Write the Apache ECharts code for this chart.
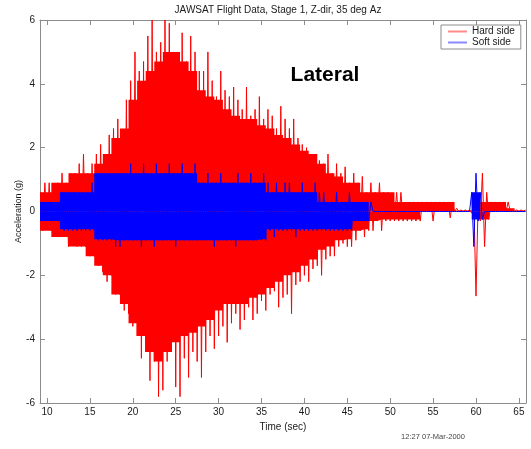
<!DOCTYPE html>
<html>
<head>
<meta charset="utf-8">
<script src="https://cdn.jsdelivr.net/npm/echarts@6/dist/echarts.min.js"></script>
<style>
html,body{margin:0;padding:0;background:#fff;}
#chart{width:531px;height:449px;}
</style>
</head>
<body>
<div id="chart"></div>
<script>
// ---- data ----
const titleText = 'JAWSAT Flight Data, Stage 1, Z-dir, 35 deg Az';
const seriesNames = ['Hard side', 'Soft side'];
const xTicks = [10, 15, 20, 25, 30, 35, 40, 45, 50, 55, 60, 65];
const xRange = [9.18, 65.83];
const yRange = [-6, 6];
const yStep = 2;

// solid (dense) band of each signal, one value per second, t = 9, 10, ... 66 s (g)
const coreStart = 9;
const coreStep = 1;
const hardCoreUpper = [
  0.6, 0.6, 0.9, 0.9, 1.2, 1.2, 1.2, 1.5, 1.8, 2.3,   // 9-18
  2.6, 3.5, 4.1, 4.4, 4.7, 5.0, 5.0, 4.7, 4.4, 3.8,   // 19-28
  3.6, 3.5, 3.2, 3.0, 2.9, 2.9, 2.7, 2.6, 2.4, 2.3,   // 29-38
  2.1, 1.9, 1.8, 1.5, 1.2, 1.1, 0.9, 0.9, 0.6, 0.6,   // 39-48
  0.6, 0.6, 0.3, 0.3, 0.3, 0.3, 0.3, 0.3, 0.3, 0.03,  // 49-58
  0.03, 0.03, 0.3, 0.3, 0.3, 0.1, 0.03, 0.03          // 59-66
];
const hardCoreLower = [
  -0.6, -0.6, -0.8, -0.8, -1.1, -1.1, -1.4, -1.7, -2.0, -2.6,  // 9-18
  -2.9, -3.5, -3.9, -4.4, -4.7, -4.4, -4.1, -3.9, -3.8, -3.6,  // 19-28
  -3.4, -3.1, -2.9, -2.9, -2.9, -2.7, -2.6, -2.4, -2.2, -2.0,  // 29-38
  -1.9, -1.7, -1.5, -1.2, -1.1, -0.9, -0.87, -0.6, -0.56, -0.3, // 39-48
  -0.25, -0.25, -0.25, -0.25, -0.25, 0, 0, 0, 0, 0,             // 49-58
  0, 0, -0.25, 0, 0, 0, 0, 0                                    // 59-66
];
const softCoreUpper = [
  0.3, 0.3, 0.3, 0.6, 0.6, 0.6, 0.6, 1.2, 1.2, 1.2,   // 9-18
  1.2, 1.2, 1.2, 1.2, 1.2, 1.2, 1.2, 1.2, 1.2, 0.9,   // 19-28
  0.9, 0.9, 0.9, 0.9, 0.9, 0.9, 0.9, 0.6, 0.6, 0.6,   // 29-38
  0.6, 0.6, 0.6, 0.3, 0.3, 0.3, 0.3, 0.3, 0.3, 0,     // 39-48
  0, 0, 0, 0, 0, 0, 0, 0, 0, 0,                       // 49-58
  0, 0.6, 0, 0, 0, 0, 0, 0                            // 59-66
];
const softCoreLower = [
  -0.3, -0.3, -0.3, -0.56, -0.56, -0.56, -0.56, -0.87, -0.87, -0.9,  // 9-18
  -0.9, -0.9, -0.9, -0.9, -0.9, -0.9, -0.9, -0.9, -0.9, -0.9,        // 19-28
  -0.9, -0.9, -0.9, -0.9, -0.9, -0.9, -0.87, -0.56, -0.56, -0.56,    // 29-38
  -0.56, -0.56, -0.56, -0.56, -0.56, -0.56, -0.56, -0.3, -0.3, 0,    // 39-48
  0, 0, 0, 0, 0, 0, 0, 0, 0, 0,                                      // 49-58
  0, -0.25, 0, 0, 0, 0, 0, 0                                         // 59-66
];

// individual peaks, every 0.25 s starting at 9.25 s (alternating half-cycle peaks, g)
const sampleStart = 9.25;
const sampleStep = 0.25;
const hardSide = [
  0.6,-0.6,0.9,-0.55,   // 9-10
  0.9,-0.6,0.6,-0.8,    // 10-11
  0.9,-0.8,1.2,-0.8,    // 11-12
  0.9,-1.1,1.2,-0.8,    // 12-13
  1.2,-1.1,1.5,-1.1,    // 13-14
  1.8,-1.1,1.2,-1.4,    // 14-15
  1.5,-1.4,1.8,-1.7,    // 15-16
  2.1,-1.9,1.8,-2.2,    // 16-17
  2.4,-2.0,2.6,-2.6,    // 17-18
  2.9,-2.6,2.4,-3.1,    // 18-19
  3.5,-3.2,4.1,-3.6,    // 19-20
  5.0,-3.9,4.4,-4.6,    // 20-21
  4.7,-4.4,5.5,-5.3,    // 21-22
  6.0,-4.7,5.0,-5.8,    // 22-23
  5.3,-5.6,6.0,-4.7,    // 23-24
  5.9,-4.4,5.0,-5.5,    // 24-25
  5.0,-5.8,5.6,-4.6,    // 25-26
  4.7,-5.2,5.5,-4.4,    // 26-27
  5.0,-4.7,4.4,-5.2,    // 27-28
  4.4,-4.4,5.0,-3.9,    // 28-29
  4.1,-4.3,3.6,-3.9,    // 29-30
  4.4,-3.6,3.8,-4.1,    // 30-31
  3.6,-3.5,3.9,-3.2,    // 31-32
  3.5,-3.7,3.2,-3.4,    // 32-33
  3.9,-3.0,3.0,-3.4,    // 33-34
  3.2,-3.2,3.6,-2.8,    // 34-35
  2.9,-3.1,3.2,-2.6,    // 35-36
  3.0,-2.5,2.6,-3.0,    // 36-37
  3.3,-2.7,2.9,-2.6,    // 37-38
  2.6,-3.2,2.9,-2.3,    // 38-39
  2.3,-2.2,2.1,-2.0,    // 39-40
  2.0,-2.2,1.8,-1.8,    // 40-41
  1.8,-1.7,1.6,-2.0,    // 41-42
  1.5,-1.5,1.8,-1.4,    // 42-43
  1.2,-1.4,1.5,-1.1,    // 43-44
  1.2,-1.0,1.4,-1.1,    // 44-45
  0.9,-1.1,1.2,-0.9,    // 45-46
  0.9,-0.6,1.1,-0.8,    // 46-47
  0.6,-0.6,0.9,-0.6,    // 47-48
  0.6,-0.3,0.9,-0.6,    // 48-49
  0.6,-0.3,0.6,-0.3,    // 49-50
  0.3,-0.3,0.6,-0.3,    // 50-51
  0.6,-0.3,0.3,-0.3,    // 51-52
  0.3,-0.3,0.3,-0.3,    // 52-53
  0.3,-0.3,0.3,0.0,     // 53-54
  0.3,0.0,0.3,-0.3,     // 54-55
  0.3,0.0,0.3,0.0,      // 55-56
  0.3,0.0,0.3,-0.2,     // 56-57
  0.3,0.0,0.1,0.0,      // 57-58
  0.05,0.0,0.05,0.0,    // 58-59
  0.05,-0.05,0.3,-2.65, // 59-60
  0.3,-0.3,1.2,-1.1,    // 60-61
  0.6,-0.25,0.3,0.0,    // 61-62
  0.3,0.0,0.3,0.0,      // 62-63
  0.3,0.0,0.3,0.0,      // 63-64
  0.05,0.0,0.05,0.0,    // 64-65
  0.05,0.0,0.05         // 65-65.75
];
const softSide = [
  0.3,-0.3,0.3,-0.3,    // 9-10
  0.3,-0.3,0.3,-0.3,    // 10-11
  0.3,-0.3,0.6,-0.6,    // 11-12
  0.6,-0.6,0.6,-0.6,    // 12-13
  0.6,-0.6,0.6,-0.6,    // 13-14
  0.6,-0.6,0.6,-0.6,    // 14-15
  0.9,-0.6,1.2,-0.9,    // 15-16
  1.2,-0.9,1.2,-0.9,    // 16-17
  1.2,-0.9,1.2,-1.1,    // 17-18
  1.2,-1.1,1.2,-0.9,    // 18-19
  1.2,-0.9,1.5,-0.9,    // 19-20
  1.2,-0.9,1.2,-1.1,    // 20-21
  1.5,-0.9,1.2,-0.9,    // 21-22
  1.2,-1.1,1.5,-0.9,    // 22-23
  1.2,-0.9,1.2,-0.9,    // 23-24
  1.5,-0.9,1.2,-1.1,    // 24-25
  1.2,-0.9,1.5,-0.9,    // 25-26
  1.2,-0.9,1.2,-0.9,    // 26-27
  1.5,-0.9,0.9,-0.9,    // 27-28
  0.9,-0.9,1.2,-0.9,    // 28-29
  0.9,-1.1,0.9,-0.9,    // 29-30
  1.2,-0.9,0.9,-0.9,    // 30-31
  0.9,-0.9,0.9,-1.1,    // 31-32
  1.2,-0.9,0.9,-0.9,    // 32-33
  0.9,-0.9,1.2,-0.9,    // 33-34
  0.9,-0.9,0.9,-0.9,    // 34-35
  1.2,-0.9,0.9,-0.6,    // 35-36
  0.6,-0.8,0.9,-0.6,    // 36-37
  0.6,-0.6,0.9,-0.6,    // 37-38
  0.9,-0.6,0.6,-0.8,    // 38-39
  0.6,-0.6,0.9,-0.6,    // 39-40
  0.6,-0.6,0.6,-0.6,    // 40-41
  0.9,-0.6,0.6,-0.6,    // 41-42
  0.6,-0.6,0.3,-0.6,    // 42-43
  0.3,-0.6,0.6,-0.6,    // 43-44
  0.3,-0.6,0.3,-0.6,    // 44-45
  0.6,-0.6,0.3,-0.3,    // 45-46
  0.3,-0.3,0.3,-0.3,    // 46-47
  0.3,-0.3,0.3,0.0,     // 47-48
  0,0,0,0,              // 48-49
  0,0,0,0,              // 49-50
  0,0,0,0,              // 50-51
  0,0,0,0,              // 51-52
  0,0,0,0,              // 52-53
  0,0,0,0,              // 53-54
  0,0,0,0,              // 54-55
  0,0,0,0,              // 55-56
  0,0,0,0,              // 56-57
  0,0,0,0,              // 57-58
  0,0,0,0,              // 58-59
  0.0,0.6,-1.1,1.2,     // 59-60
  -0.3,0.6,-0.25,0.0,   // 60-61
  0,0,0,0,              // 61-62
  0,0,0,0,              // 62-63
  0,0,0,0,              // 63-64
  0,0,0,0,              // 64-65
  0,0,0                 // 65-65.75
];

// ---- chart ----
const FONT = '"Liberation Sans", Arial, Helvetica, sans-serif';
const AXIS_COLOR = '#8c8c8c';
const RED = '#ff0000';
const BLUE = '#0000ff';
function toPoints(vals, start, step) {
  return vals.map((v, i) => [start + i * step, v]);
}
function bandSeries(name, vals, color, z) {
  return {
    name: name, type: 'line', data: toPoints(vals, coreStart, coreStep),
    step: 'middle', showSymbol: false, symbol: 'none', silent: true, z: z,
    lineStyle: {width: 0, color: color, opacity: 0},
    areaStyle: {color: color, opacity: 1},
    itemStyle: {color: color}
  };
}
function signalSeries(name, vals, color, z) {
  return {
    name: name, type: 'line', data: toPoints(vals, sampleStart, sampleStep),
    showSymbol: false, symbol: 'none', z: z,
    lineStyle: {color: color, width: 1, join: 'bevel'},
    itemStyle: {color: color}
  };
}
const chart = echarts.init(document.getElementById('chart'), null, {renderer: 'canvas'});
const baseX = {
  type: 'value', min: xRange[0], max: xRange[1],
  axisLine: {show: true, onZero: false, lineStyle: {color: AXIS_COLOR, width: 1}},
  axisTick: {show: true, inside: true, length: 5, customValues: xTicks, lineStyle: {color: AXIS_COLOR}},
  splitLine: {show: false}
};
const baseY = {
  type: 'value', min: yRange[0], max: yRange[1], interval: yStep,
  axisLine: {show: true, onZero: false, lineStyle: {color: AXIS_COLOR, width: 1}},
  axisTick: {show: true, inside: true, length: 5, lineStyle: {color: AXIS_COLOR}},
  splitLine: {show: false}
};
const option = {
  animation: false,
  backgroundColor: '#ffffff',
  grid: {left: 40, right: 5, top: 20, bottom: 46, containLabel: false},
  xAxis: [
    Object.assign({}, baseX, {
      position: 'bottom',
      axisLabel: {customValues: xTicks, color: '#1a1a1a', fontSize: 10, margin: 4, fontFamily: FONT},
      name: 'Time (sec)', nameLocation: 'middle', nameGap: 17,
      nameTextStyle: {color: '#1a1a1a', fontSize: 10, fontFamily: FONT}
    }),
    Object.assign({}, baseX, {position: 'top', axisLabel: {show: false}})
  ],
  yAxis: [
    Object.assign({}, baseY, {
      position: 'left',
      axisLabel: {color: '#1a1a1a', fontSize: 10, margin: 5, fontFamily: FONT},
      name: 'Acceleration (g)', nameLocation: 'middle', nameGap: 17, nameMoveOverlap: false,
      nameTextStyle: {color: '#1a1a1a', fontSize: 9, fontFamily: FONT}
    }),
    Object.assign({}, baseY, {position: 'right', axisLabel: {show: false}})
  ],
  legend: {
    orient: 'vertical', left: 441, top: 25,
    padding: [1, 6, 1, 7], itemGap: 0, itemWidth: 19, itemHeight: 2,
    backgroundColor: '#ffffff', borderColor: AXIS_COLOR, borderWidth: 1, borderRadius: 0,
    textStyle: {color: '#1a1a1a', fontSize: 10, fontFamily: FONT, lineHeight: 11},
    data: [
      {name: seriesNames[0], icon: 'rect', itemStyle: {color: '#ff8a8a'}},
      {name: seriesNames[1], icon: 'rect', itemStyle: {color: '#8a8aff'}}
    ]
  },
  series: [
    bandSeries('hard-band-upper', hardCoreUpper, RED, 2),
    bandSeries('hard-band-lower', hardCoreLower, RED, 2),
    signalSeries(seriesNames[0], hardSide, RED, 2),
    bandSeries('soft-band-upper', softCoreUpper, BLUE, 3),
    bandSeries('soft-band-lower', softCoreLower, BLUE, 3),
    signalSeries(seriesNames[1], softSide, BLUE, 3)
  ],
  graphic: [
    {type: 'text', x: 278, y: 10, z: 10,
     style: {text: titleText, font: '10px ' + FONT, fill: '#1a1a1a', align: 'center', verticalAlign: 'middle'}},
    {type: 'text', x: 325, y: 75, z: 10,
     style: {text: 'Lateral', font: 'bold 21px ' + FONT, fill: '#000000', align: 'center', verticalAlign: 'middle'}},
    {type: 'text', x: 433, y: 437, z: 10,
     style: {text: '12:27 07-Mar-2000', font: '7.5px ' + FONT, fill: '#444444', align: 'center', verticalAlign: 'middle'}}
  ]
};
chart.setOption(option);
</script>
</body>
</html>
